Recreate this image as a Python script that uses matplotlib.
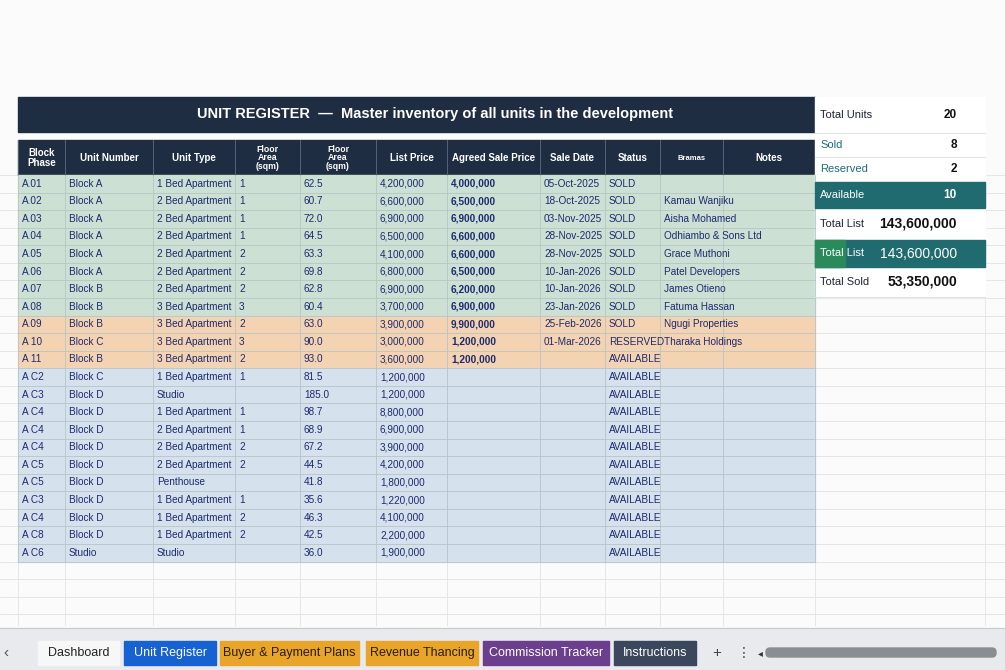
import matplotlib
matplotlib.use("Agg")
import matplotlib.pyplot as plt
from matplotlib.patches import Rectangle, FancyBboxPatch

plt.rcParams['font.family'] = ['Liberation Sans', 'DejaVu Sans']

title = "UNIT REGISTER  —  Master inventory of all units in the development"
headers = ["Block\nPhase", "Unit Number", "Unit Type", "Floor\nArea\n(sqm)", "Floor\nArea\n(sqm)",
           "List Price", "Agreed Sale Price", "Sale Date", "Status", "Bramas", "Notes"]
phase = ["A.01","A.02","A.03","A.04","A.05","A.06","A.07","A.08","A.09","A 10","A 11",
         "A C2","A C3","A C4","A C4","A C4","A C5","A C5","A C3","A C4","A C8","A C6"]
unit_no = ["Block A"]*6 + ["Block B","Block B","Block B","Block C","Block B",
           "Block C","Block D","Block D","Block D","Block D","Block D","Block D","Block D","Block D","Block D","Studio"]
unit_type = ["1 Bed Apartment"] + ["2 Bed Apartment"]*6 + ["3 Bed Apartment"]*4 + \
            ["1 Bed Apartment","Studio","1 Bed Apartment","2 Bed Apartment","2 Bed Apartment","2 Bed Apartment",
             "Penthouse","1 Bed Apartment","1 Bed Apartment","1 Bed Apartment","Studio"]
floor = ["1","1","1","1","2","2","2","3","2","3","2","1","","1","1","2","2","","1","2","2",""]
area = [62.5,60.7,72.0,64.5,63.3,69.8,62.8,60.4,63.0,90.0,93.0,81.5,185.0,98.7,68.9,67.2,44.5,41.8,35.6,46.3,42.5,36.0]
list_price = [4200000,6600000,6900000,6500000,4100000,6800000,6900000,3700000,3900000,3000000,3600000,
              1200000,1200000,8800000,6900000,3900000,4200000,1800000,1220000,4100000,2200000,1900000]
agreed = [4000000,6500000,6900000,6600000,6600000,6500000,6200000,6900000,9900000,1200000,1200000] + [None]*11
sale_date = ["05-Oct-2025","18-Oct-2025","03-Nov-2025","28-Nov-2025","28-Nov-2025","10-Jan-2026",
             "10-Jan-2026","23-Jan-2026","25-Feb-2026","01-Mar-2026"] + [""]*12
status = ["SOLD"]*9 + ["RESERVED"] + ["AVAILABLE"]*12
notes = ["","Kamau Wanjiku","Aisha Mohamed","Odhiambo & Sons Ltd","Grace Muthoni","Patel Developers",
         "James Otieno","Fatuma Hassan","Ngugi Properties","Tharaka Holdings"] + [""]*12
summary_labels = ["Total Units","Sold","Reserved","Available","Total List","Total List","Total Sold"]
summary_values = ["20","8","2","10","143,600,000","143,600,000","53,350,000"]
tabs = ["Dashboard","Unit Register","Buyer & Payment Plans","Revenue Thancing","Commission Tracker","Instructions"]

fig = plt.figure(figsize=(10.05, 6.7), dpi=100)
ax = fig.add_axes([0, 0, 1, 1])
ax.set_xlim(0, 1005); ax.set_ylim(670, 0); ax.axis("off")
ax.add_patch(Rectangle((0, 0), 1005, 670, color="#fbfbfc", zorder=0))

navy = "#1f2d42"; txt = "#1d2a6e"
cols = [18, 65, 153, 235, 300, 376, 447, 540, 605, 660, 723, 815]
top, rh = 175, 17.57

for y in [top + i*rh for i in range(26)]:
    ax.plot([0, 1005], [y, y], color="#dfe2e6", lw=0.6, zorder=1)
for x in cols + [985]:
    ax.plot([x, x], [175, 625], color="#e2e4e8", lw=0.6, zorder=1)

ax.add_patch(Rectangle((18, 97), 797, 35, color=navy, zorder=2))
ax.text(435, 114, title, color="white", fontsize=10.5, fontweight="bold", ha="center", va="center", zorder=3)
ax.add_patch(Rectangle((18, 140), 797, 35, color=navy, zorder=2))
for i, h in enumerate(headers):
    cx = (cols[i] + cols[i+1]) / 2
    fs = 6.3 if "\n(" in h else 7
    if h == "Bramas": fs = 5.5
    ax.text(cx, 158, h, color="white", fontsize=fs, fontweight="bold", ha="center", va="center",
            linespacing=0.9, zorder=3)
    ax.plot([cols[i], cols[i]], [140, 175], color="#55627a", lw=0.7, zorder=3)

green, orange, blue = "#cce0d4", "#f4d3b2", "#d5e1ec"
for r in range(len(phase)):
    y = top + r*rh
    c = green if r < 8 else (orange if r < 11 else blue)
    ax.add_patch(Rectangle((18, y), 797, rh, color=c, zorder=2))
    ax.plot([18, 815], [y + rh, y + rh], color="#b7c4c6", lw=0.6, zorder=3)
    cy = y + rh/2
    vals = [phase[r], unit_no[r], unit_type[r], floor[r], f"{area[r]:.1f}", f"{list_price[r]:,}",
            f"{agreed[r]:,}" if agreed[r] else "", sale_date[r], status[r], notes[r]]
    for j, v in enumerate(vals):
        ax.text(cols[j] + 4, cy, v, color=txt, fontsize=7.2, ha="left", va="center", zorder=4,
                fontweight="bold" if j == 6 else "normal")
for x in cols:
    ax.plot([x, x], [175, top + 22*rh], color="#b7c4c6", lw=0.6, zorder=3)

ax.add_patch(Rectangle((815, 97), 170, 200, color="white", zorder=2))
sy = [(97, 133), (133, 157), (157, 182), (182, 208), (208, 240), (240, 267), (267, 297)]
for i, (a, b) in enumerate(sy):
    cy = (a + b) / 2
    dark = i in (3, 5)
    if dark:
        ax.add_patch(Rectangle((815, a), 170, b - a, color="#1f6b70", zorder=3))
        if i == 5:
            ax.add_patch(Rectangle((815, a), 30, b - a, color="#2a8a5c", zorder=3))
    else:
        ax.plot([815, 985], [b, b], color="#e0e3e6", lw=0.8, zorder=3)
    lc = "white" if dark else ("#1f6b7a" if i in (1, 2) else "#1d2433")
    big = i >= 4
    ax.text(820, cy, summary_labels[i], color=lc, fontsize=8, ha="left", va="center", zorder=4)
    ax.text(957, cy, summary_values[i], color="white" if dark else "#111",
            fontsize=10 if big else 8.5, fontweight="bold" if not dark or i == 3 else "normal",
            ha="right", va="center", zorder=4)

ax.add_patch(Rectangle((0, 628), 1005, 42, color="#e9eaed", zorder=2))
ax.plot([0, 1005], [628, 628], color="#c9ccd2", lw=0.8, zorder=3)
ax.text(3, 653, "‹", fontsize=11, color="#555", va="center", zorder=4)
tab_x = [(38, 119), (124, 216), (220, 359), (366, 478), (483, 609), (614, 696)]
tab_c = ["#f7f7f8", "#1662d0", "#e8a52a", "#e8a52a", "#6b3f8e", "#3a475c"]
tab_t = ["#222", "white", "#2a1c00", "#2a1c00", "white", "white"]
for (a, b), c, tc, t in zip(tab_x, tab_c, tab_t, tabs):
    ax.add_patch(Rectangle((a, 641), b - a, 24, color=c, zorder=3))
    ax.text((a + b) / 2, 653, t, color=tc, fontsize=9, ha="center", va="center", zorder=4)
ax.text(717, 653, "+", fontsize=11, color="#444", ha="center", va="center", zorder=4)
ax.text(744, 653, "⋮", fontsize=10, color="#444", ha="center", va="center", family="DejaVu Sans", zorder=4)
ax.add_patch(FancyBboxPatch((766, 648), 230, 9, boxstyle="round,pad=0,rounding_size=4",
                            color="#8a8d92", zorder=4))
ax.text(760, 653, "◂", fontsize=7, color="#333", ha="center", va="center", family="DejaVu Sans", zorder=4)

fig.savefig("out.png", dpi=100)
